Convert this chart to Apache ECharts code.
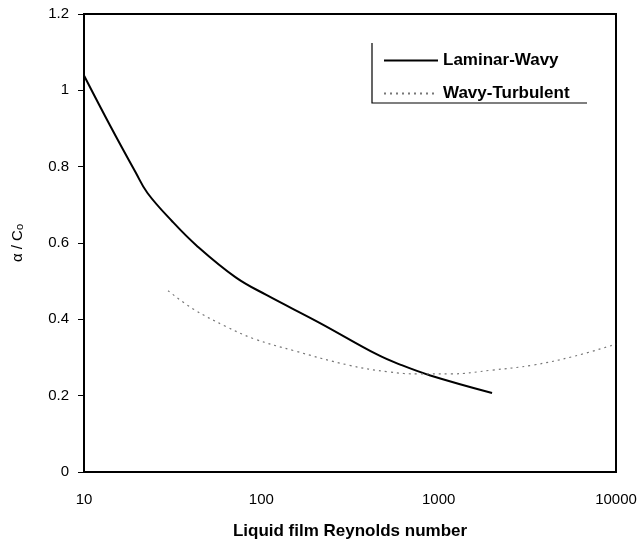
<!DOCTYPE html>
<html>
<head>
<meta charset="utf-8">
<script src="https://cdn.jsdelivr.net/npm/echarts@6/dist/echarts.min.js"></script>
<style>
    html, body { margin: 0; padding: 0; background: #fff; }
    #chart { width: 643px; height: 550px; }
</style>
</head>
<body>
<div id="chart"></div>
<script>
// Laminar-Wavy curve
const lwRe = [10, 14.1, 19.5, 22.8, 31.4, 43.2, 71.7, 106.7, 213, 449, 618, 897, 2000]
const lwAlpha = [1.039, 0.906, 0.786, 0.731, 0.657, 0.593, 0.51, 0.464, 0.391, 0.308, 0.28, 0.253, 0.207]

// Wavy-Turbulent curve
const wtRe = [29.8, 41, 62.7, 91, 155, 310, 527, 765, 1170, 2000, 3390, 5780, 10000]
const wtAlpha = [0.475, 0.428, 0.382, 0.349, 0.317, 0.28, 0.262, 0.257, 0.257, 0.267, 0.28, 0.303, 0.335]

const seriesNames = ['Laminar-Wavy', 'Wavy-Turbulent']
const xTicks = [10, 100, 1000, 10000]

const zip = (xs, ys) => xs.map((x, i) => [x, ys[i]])

const font = '"Liberation Sans", Arial, sans-serif'

let option = {
    animation: false,
    backgroundColor: '#fff',
    grid: {
        left: 84,
        right: 27,
        top: 14,
        bottom: 78,
        show: true,
        borderColor: '#000',
        borderWidth: 2,
    },
    legend: {
        orient: 'vertical',
        left: 378,
        top: 47,
        itemWidth: 54,
        itemHeight: 16,
        itemGap: 16,
        data: seriesNames,
        itemStyle: { opacity: 0 },
        textStyle: {
            fontFamily: font,
            fontWeight: 'bold',
            fontSize: 17,
            color: '#000',
        },
    },
    graphic: [
        {
            // legend frame: left and bottom edges only
            type: 'polyline',
            shape: { points: [[372, 43], [372, 103], [587, 103]] },
            style: { stroke: '#000', lineWidth: 1.2, fill: null },
        },
    ],
    xAxis: {
        type: 'log',
        logBase: 10,
        min: 10,
        max: 10000,
        name: 'Liquid film Reynolds number',
        nameLocation: 'middle',
        nameGap: 51,
        nameTextStyle: {
            fontFamily: font,
            fontWeight: 'bold',
            fontSize: 17,
            color: '#000',
        },
        axisLine: { lineStyle: { color: '#000', width: 2 } },
        axisTick: { show: false },
        splitLine: { show: false },
        minorTick: { show: false },
        axisLabel: {
            margin: 20,
            fontFamily: font,
            fontSize: 15,
            color: '#000',
            formatter: v => (xTicks.includes(Math.round(v)) ? String(Math.round(v)) : ''),
        },
    },
    yAxis: {
        type: 'value',
        min: 0,
        max: 1.2,
        interval: 0.2,
        name: '{a|α / C}{s|o}',
        nameLocation: 'middle',
        nameGap: 59,
        nameRotate: 90,
        nameTextStyle: {
            rich: {
                a: { fontFamily: font, fontSize: 15, color: '#000' },
                s: { fontFamily: font, fontSize: 11, color: '#000', padding: [4, 0, 0, 0] },
            },
        },
        axisLine: { lineStyle: { color: '#000', width: 2 } },
        axisTick: { show: true, inside: false, length: 6, lineStyle: { color: '#000', width: 1 } },
        splitLine: { show: false },
        axisLabel: {
            margin: 15,
            fontFamily: font,
            fontSize: 15,
            color: '#000',
            formatter: v => String(Math.round(v * 10) / 10),
        },
    },
    series: [
        {
            name: seriesNames[0],
            type: 'line',
            smooth: 0.4,
            symbol: 'none',
            data: zip(lwRe, lwAlpha),
            lineStyle: { color: '#000', width: 2 },
            itemStyle: { color: '#000' },
        },
        {
            name: seriesNames[1],
            type: 'line',
            smooth: 0.4,
            symbol: 'none',
            data: zip(wtRe, wtAlpha),
            lineStyle: { color: '#777', width: 1.2, type: [2, 4] },
            itemStyle: { color: '#777' },
        },
    ],
}

let myChart = echarts.init(document.getElementById('chart'))
myChart.setOption(option, true)
</script>
</body>
</html>
